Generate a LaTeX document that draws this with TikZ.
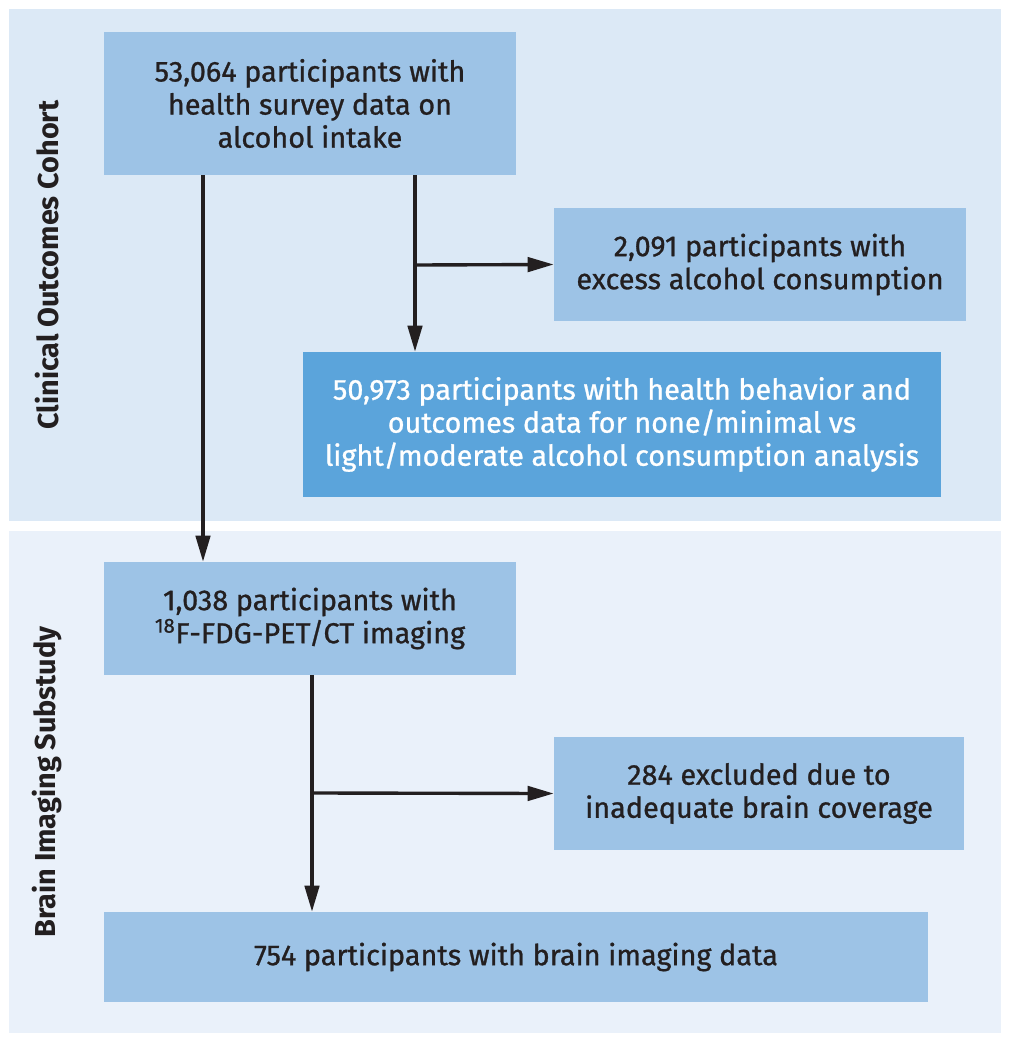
\documentclass[tikz,border=0pt]{standalone}
\usepackage{fontspec}
\setmainfont{Fira Sans}
\newfontfamily\boxfont{Fira Sans}[FakeBold=0.9]
\usetikzlibrary{arrows.meta,calc,positioning}
\definecolor{panelA}{HTML}{DCE9F6}
\definecolor{panelB}{HTML}{EAF1FA}
\definecolor{boxlight}{HTML}{9DC3E6}
\definecolor{boxdark}{HTML}{5BA4DB}
\definecolor{ink}{HTML}{231F20}

\begin{document}
\begin{tikzpicture}[
    x=0.025cm,
    y=-0.025cm,
    >={Triangle[length=6.5mm, width=3.6mm]},
    panel/.style={fill=#1, draw=none},
    block/.style={fill=boxlight, draw=none, align=center, text=ink, inner sep=0pt, font=\boxfont\fontsize{20.5}{23.5}\selectfont},
    darkblock/.style={block, fill=boxdark, text=white},
    side/.style={rotate=90, text=ink, font=\fontsize{20.5}{24}\selectfont\bfseries},
    line/.style={->, draw=ink, line width=2.4pt}
]
\useasboundingbox (0,0) rectangle (1011,1050);
% panels
\fill[panelA] (9,9) rectangle (1001,521);
\fill[panelB] (9,531) rectangle (1001,1033);
\node[side] (cohort) at (47,265) {Clinical Outcomes Cohort};
\node[side] (substudy) at (47,782) {Brain Imaging Substudy};

% boxes
\node[block, minimum width=412*0.025cm, minimum height=143*0.025cm] (intake) at (310,103.5)
  {53,064 participants with\\health survey data on\\alcohol intake};
\node[block, minimum width=412*0.025cm, minimum height=113*0.025cm] (excess) at (760,264.5)
  {2,091 participants with\\excess alcohol consumption};
\node[darkblock, minimum width=638*0.025cm, minimum height=145*0.025cm] (analysis) at (622,424.5)
  {50,973 participants with health behavior and\\outcomes data for none/minimal vs\\light/moderate alcohol consumption analysis};
\node[block, minimum width=412*0.025cm, minimum height=113*0.025cm] (pet) at (310,618.5)
  {1,038 participants with\\\textsuperscript{18}F-FDG-PET/CT imaging};
\node[block, minimum width=410*0.025cm, minimum height=113*0.025cm] (coverage) at (759,793.5)
  {284 excluded due to\\inadequate brain coverage};
\node[block, minimum width=824*0.025cm, minimum height=90*0.025cm] (brain) at (516,957)
  {754 participants with brain imaging data};

% connectors
\coordinate (split1) at (415,265);
\coordinate (split2) at (312,793);
\draw[line] (intake.south -| 203,0) -- (pet.north -| 203,0);
\draw[line] (intake.south -| split1) -- (analysis.north -| split1);
\draw[line] (split1) -- (excess.west);
\draw[line] (pet.south -| split2) -- (brain.north -| split2);
\draw[line] (split2) -- (coverage.west);
\end{tikzpicture}
\end{document}
